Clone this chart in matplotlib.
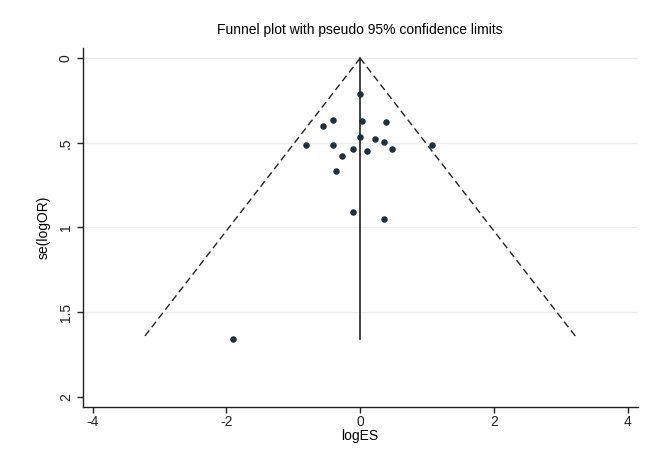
import matplotlib.pyplot as plt
import numpy as np

plt.rcParams['font.family'] = ['Liberation Sans', 'DejaVu Sans']

# study estimates (logES) and standard errors
log_es = [0.00, -0.41, -0.56, 0.03, 0.38, -0.81, -0.41, 0.00, 0.22, 0.36,
          -0.11, 0.10, 0.48, -0.27, -0.36, 1.08, -0.11, 0.36, -1.90]
se_log_or = [0.21, 0.365, 0.40, 0.372, 0.38, 0.512, 0.512, 0.467, 0.477, 0.495,
             0.538, 0.548, 0.538, 0.577, 0.666, 0.512, 0.91, 0.948, 1.66]

pooled = 0.0
se_max = max(se_log_or)
y_ticks = [0, 0.5, 1, 1.5, 2]
y_tick_labels = ['0', '.5', '1', '1.5', '2']
x_ticks = [-4, -2, 0, 2, 4]

fig = plt.figure(figsize=(6.5, 4.65), dpi=100)
ax = fig.add_axes([0.127, 0.1254, 0.854, 0.771])

# gridlines
for y in y_ticks[:-1]:
    ax.axhline(y, color='#ececec', linewidth=1, zorder=0)

# pseudo 95% confidence limits
se_line = np.array([0, se_max])
ax.plot(pooled - 1.96 * se_line, se_line, color='#222222', linestyle=(0, (5, 3)), linewidth=1)
ax.plot(pooled + 1.96 * se_line, se_line, color='#222222', linestyle=(0, (5, 3)), linewidth=1)
ax.plot([pooled, pooled], [0, se_max], color='#222222', linewidth=1.2)

ax.scatter(log_es, se_log_or, s=22, color='#1e2f3e', zorder=3, linewidths=0)

ax.set_xlim(-4.15, 4.15)
ax.set_ylim(2.059, -0.059)
ax.set_xticks(x_ticks)
ax.set_xticklabels([str(x) for x in x_ticks])
ax.set_yticks(y_ticks)
ax.set_yticklabels(y_tick_labels, rotation=90, va='center')
ax.tick_params(axis='both', direction='out', length=4, width=1, labelsize=10, colors='#222222')
ax.tick_params(axis='x', pad=2)
ax.tick_params(axis='y', pad=3)

for side in ['top', 'right']:
    ax.spines[side].set_visible(False)
for side in ['left', 'bottom']:
    ax.spines[side].set_color('#222222')
    ax.spines[side].set_linewidth(1)

ax.set_xlabel('logES', fontsize=10, labelpad=0)
ax.set_ylabel('se(logOR)', fontsize=10, labelpad=6)
ax.set_title('Funnel plot with pseudo 95% confidence limits', fontsize=10, pad=10)

fig.savefig('out.png', dpi=100)
